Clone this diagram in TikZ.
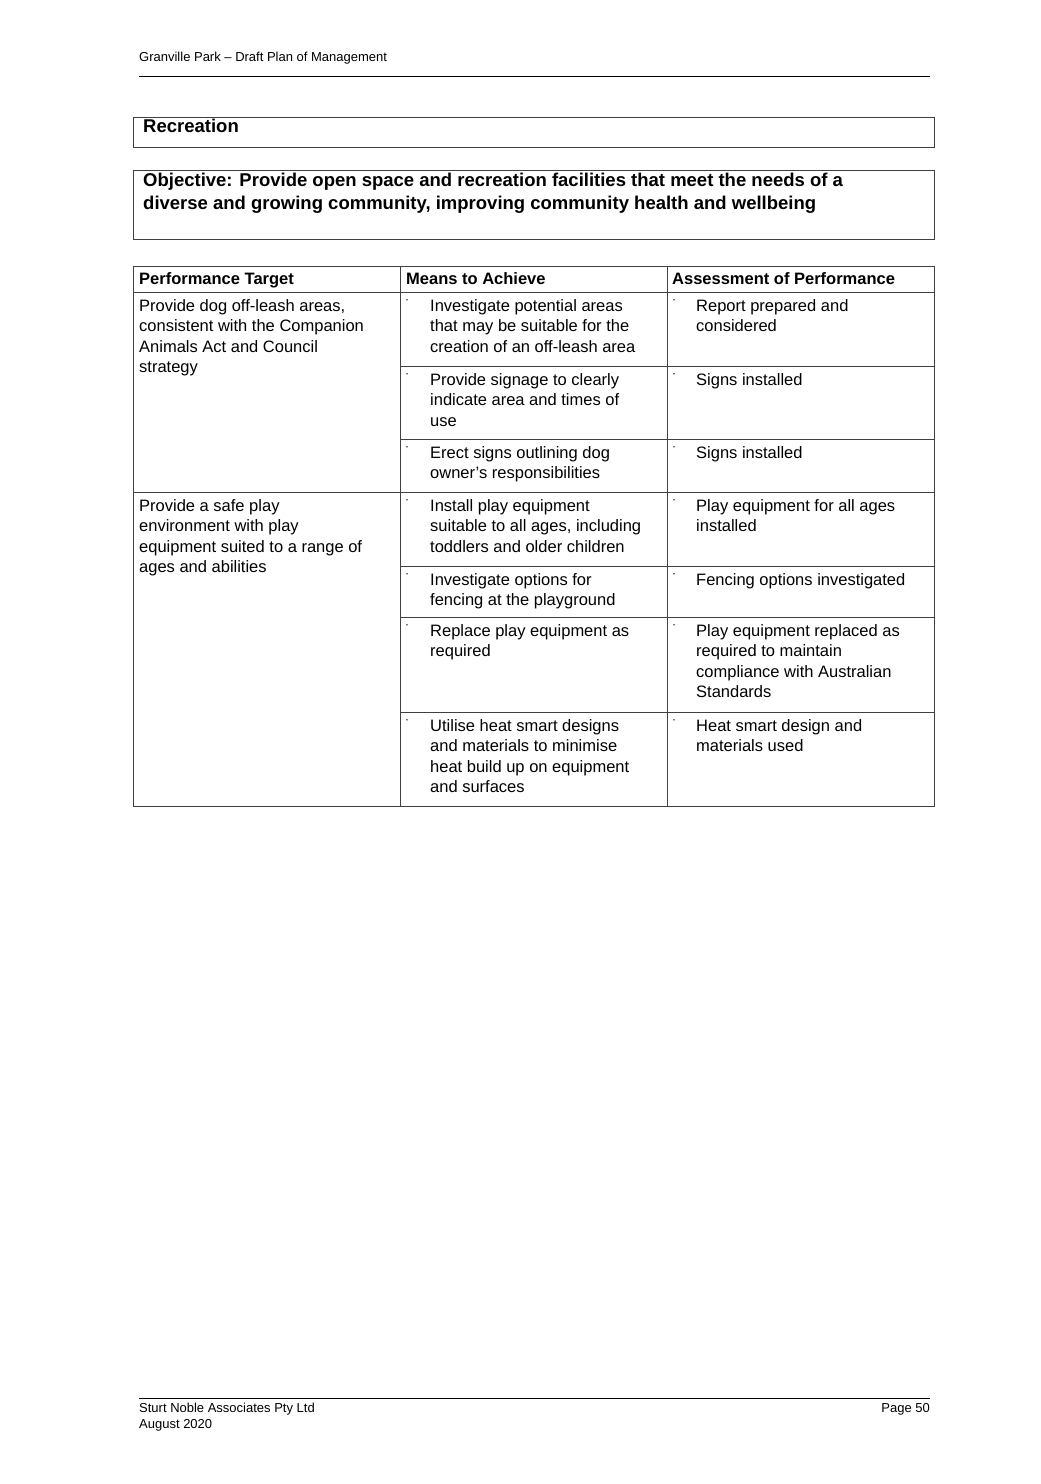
\documentclass[tikz,border=0pt]{standalone}
\usepackage{fontspec}
\setmainfont{Liberation Sans}
\begin{document}
\begin{tikzpicture}[x=1pt,y=-1pt,
  txt/.style={anchor=north west,inner sep=0pt,align=left,font=\fontsize{16.5}{20.5}\selectfont},
  hd/.style={txt,font=\fontsize{16.5}{20.5}\selectfont\bfseries},
  ttl/.style={anchor=north west,inner sep=0pt,align=left,font=\fontsize{18.5}{22.5}\selectfont\bfseries},
  small/.style={inner sep=0pt,font=\fontsize{13}{15.5}\selectfont},
  bul/.style={anchor=north west,inner sep=0pt,font=\fontsize{12}{14}\selectfont},
  rule/.style={draw=black!75,line width=0.8pt}]
\useasboundingbox[fill=white] (0,0) rectangle (1041,1484);
% header
\node[small,anchor=west] (h) at (139,58) {Granville Park – Draft Plan of Management};
\draw[black,line width=0.8pt] (139,76) -- (930,76);
% title boxes
\draw[rule] (133,117) rectangle (934,147);
\node[ttl] (rec) at (143,119) {Recreation};
\draw[rule] (133,170) rectangle (934,239);
\node[ttl] (obj) at (143,173) {Objective: Provide open space and recreation facilities that meet the needs of a\\diverse and growing community, improving community health and wellbeing};
% table grid
\draw[rule] (133,266) rectangle (934,806);
\draw[rule] (400,266) -- (400,806);
\draw[rule] (667,266) -- (667,806);
\draw[rule] (133,292) -- (934,292);
\draw[rule] (400,366) -- (934,366);
\draw[rule] (400,439) -- (934,439);
\draw[rule] (133,492) -- (934,492);
\draw[rule] (400,566) -- (934,566);
\draw[rule] (400,617) -- (934,617);
\draw[rule] (400,712) -- (934,712);
% header row
\node[hd] (c1) at (139,272) {Performance Target};
\node[hd] (c2) at (406,272) {Means to Achieve};
\node[hd] (c3) at (672,272) {Assessment of Performance};
% left column
\node[txt] (p1) at (139,299) {Provide dog off-leash areas,\\consistent with the Companion\\Animals Act and Council\\strategy};
\node[txt] (p2) at (139,499) {Provide a safe play\\environment with play\\equipment suited to a range of\\ages and abilities};
% means
\foreach \y/\t [count=\i] in {
 299/{Investigate potential areas\\that may be suitable for the\\creation of an off-leash area},
 373/{Provide signage to clearly\\indicate area and times of\\use},
 446/{Erect signs outlining dog\\owner’s responsibilities},
 499/{Install play equipment\\suitable to all ages, including\\toddlers and older children},
 573/{Investigate options for\\fencing at the playground},
 624/{Replace play equipment as\\required},
 719/{Utilise heat smart designs\\and materials to minimise\\heat build up on equipment\\and surfaces}}
 {\node[bul] (mb\i) at (405,\y) {·};
  \node[txt] (m\i) at (430,\y) {\t};}
\foreach \y/\t [count=\i] in {
 299/{Report prepared and\\considered},
 373/{Signs installed},
 446/{Signs installed},
 499/{Play equipment for all ages\\installed},
 573/{Fencing options investigated},
 624/{Play equipment replaced as\\required to maintain\\compliance with Australian\\Standards},
 719/{Heat smart design and\\materials used}}
 {\node[bul] (ab\i) at (672,\y) {·};
  \node[txt] (a\i) at (696,\y) {\t};}
% footer
\draw[black,line width=0.8pt] (139,1398) -- (930,1398);
\node[small,anchor=north west,align=left] (f1) at (139,1403) {Sturt Noble Associates Pty Ltd\\August 2020};
\node[small,anchor=north east] (f2) at (930,1403) {Page 50};
\end{tikzpicture}
\end{document}
